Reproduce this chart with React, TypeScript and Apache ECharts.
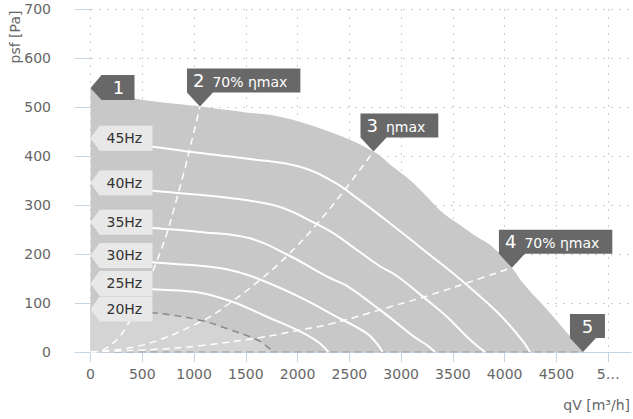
import React, { useEffect, useRef } from 'react';
import * as echarts from 'echarts';

// ---- axis ticks ----
const xTickValues = [0, 500, 1000, 1500, 2000, 2500, 3000, 3500, 4000, 4500, 5000];

// ---- operating envelope (max curve) ----
const envelope = [
  [0, 539], [440, 517], [1057, 501], [1500, 489], [1831, 480], [2314, 449], [2733, 409],
  [2920, 378], [3084, 351], [3249, 317], [3403, 284], [3568, 259], [3732, 235], [3886, 214],
  [4070, 172], [4176, 141], [4437, 80], [4756, 0],
];

// ---- frequency curves ----
const hz45 = [
  [0, 436], [602, 419], [1056, 406], [1539, 394], [2022, 378], [2341, 348], [2600, 310],
  [2824, 274], [3113, 226], [3278, 198], [3471, 166], [3596, 144], [3761, 114], [3925, 82],
  [4079, 47], [4190, 18], [4244, 0],
];
const hz40 = [
  [0, 345], [602, 329], [1056, 321], [1500, 310], [1858, 294], [2186, 261], [2341, 243],
  [2601, 204], [2795, 175], [2959, 155], [3210, 113], [3442, 72], [3640, 30], [3760, 8], [3809, 0],
];
const hz35 = [
  [0, 265], [602, 253], [1056, 245], [1539, 232], [1907, 198], [2312, 151], [2476, 135],
  [2795, 86], [2959, 59], [3113, 33], [3249, 14], [3326, 0],
];
const hz30 = [
  [0, 197], [602, 183], [1056, 176], [1375, 166], [1637, 148], [2022, 112], [2341, 76],
  [2669, 38], [2770, 16], [2820, 0],
];
const hz25 = [
  [0, 140], [602, 128], [1056, 121], [1375, 102], [1703, 72], [2022, 42], [2200, 20], [2296, 0],
];
const hz20 = [
  [0, 88], [602, 80], [1056, 65], [1327, 47], [1607, 25], [1700, 12], [1763, 0],
];

// ---- efficiency (system) lines ----
const eta70Left = [[0, 0], [138, 6], [348, 52], [670, 202], [864, 337], [1000, 450], [1057, 501]];
const etaMax = [
  [0, 0], [500, 14], [1057, 61], [1347, 100], [1637, 147], [1898, 196], [2186, 261], [2440, 327], [2733, 409],
];
const eta70Right = [
  [0, 0], [600, 5], [1059, 13], [1600, 28], [2026, 45], [2312, 57], [2669, 78], [2795, 86],
  [3278, 116], [3635, 141], [4070, 172],
];
const zeroLine = [[0, 0], [4756, 0]];

// ---- frequency tags ----
const tagLabels = ['45Hz', '40Hz', '35Hz', '30Hz', '25Hz', '20Hz'];
const tagQ = [0, 0, 0, 0, 0, 0];
const tagP = [436, 345, 265, 197, 140, 88];

// ---- numbered callouts ----
const calloutQ = [0, 1057, 2733, 4070, 4756];
const calloutP = [539, 501, 409, 172, 0];
const calloutNum = ['1', '2', '3', '4', '5'];
const calloutText = ['', '70% ηmax', 'ηmax', '70% ηmax', ''];

const FONT = '"DejaVu Sans", sans-serif';

let measureCtx: CanvasRenderingContext2D | null = null;
function measure(text: string, font: string): number {
  if (!measureCtx) measureCtx = document.createElement('canvas').getContext('2d');
  if (!measureCtx) return text.length * 8;
  measureCtx.font = font;
  return measureCtx.measureText(text).width;
}

const SMOOTH = 0.4;

const whiteLine = (data: number[][]) => ({
  type: 'line',
  data,
  symbol: 'none',
  smooth: SMOOTH,
  silent: true,
  lineStyle: { color: '#ffffff', width: 2 },
});

const dashedWhite = (data: number[][]) => ({
  type: 'line',
  data,
  symbol: 'none',
  smooth: SMOOTH,
  silent: true,
  lineStyle: { color: '#ffffff', width: 1.5, type: [7, 5] },
});

function renderTag(i: number, cx: number, cy: number) {
  const h = 12.5;
  return {
    type: 'group',
    children: [
      {
        type: 'polygon',
        shape: {
          points: [[cx, cy], [cx + 9, cy - h], [cx + 62, cy - h], [cx + 62, cy + h], [cx + 9, cy + h]],
        },
        style: { fill: '#e8e8e8' },
      },
      {
        type: 'text',
        x: cx + 16,
        y: cy,
        style: {
          text: tagLabels[i],
          fill: '#333333',
          font: `14px ${FONT}`,
          align: 'left',
          verticalAlign: 'middle',
        },
      },
    ],
  };
}

function renderCallout(i: number, q: number, cx: number, cy: number) {
  const num = calloutNum[i];
  const txt = calloutText[i];
  const fill = '#686868';
  const numFont = `18px ${FONT}`;
  const txtFont = `14px ${FONT}`;
  if (q === 0) {
    const pts = [[cx, cy], [cx + 11, cy - 13], [cx + 44, cy - 13], [cx + 44, cy + 12], [cx + 11, cy + 12]];
    return {
      type: 'group',
      children: [
        { type: 'polygon', shape: { points: pts }, style: { fill } },
        {
          type: 'text',
          x: cx + 28,
          y: cy,
          style: { text: num, fill: '#ffffff', font: numFont, align: 'center', verticalAlign: 'middle' },
        },
      ],
    };
  }
  const numW = measure(num, numFont);
  const txtW = txt ? measure(txt, txtFont) : 0;
  const left = cx - 13;
  const bottom = cy - 14;
  const top = bottom - 24;
  const w = txt ? 6 + numW + 8 + txtW + 13 : 35;
  const pts = [[left, top], [left + w, top], [left + w, bottom], [left + 26, bottom], [cx, cy], [left, bottom]];
  const children: any[] = [{ type: 'polygon', shape: { points: pts }, style: { fill } }];
  if (txt) {
    children.push({
      type: 'text',
      x: left + 6,
      y: (top + bottom) / 2,
      style: { text: num, fill: '#ffffff', font: numFont, align: 'left', verticalAlign: 'middle' },
    });
    children.push({
      type: 'text',
      x: left + 6 + numW + 8,
      y: (top + bottom) / 2 + 1,
      style: { text: txt, fill: '#ffffff', font: txtFont, align: 'left', verticalAlign: 'middle' },
    });
  } else {
    children.push({
      type: 'text',
      x: left + w / 2,
      y: (top + bottom) / 2,
      style: { text: num, fill: '#ffffff', font: numFont, align: 'center', verticalAlign: 'middle' },
    });
  }
  return { type: 'group', children };
}

export default function App() {
  const ref = useRef<HTMLDivElement>(null);

  useEffect(() => {
    if (!ref.current) return;
    const chart = echarts.init(ref.current, null, { renderer: 'svg' });
    const axisBlue = '#c5d4e4';
    const labelColor = '#666666';

    // annotation rows: [q, p, kind (0 = tag, 1 = callout), index]
    const annotations = [
      ...tagQ.map((q, i) => [q, tagP[i], 0, i]),
      ...calloutQ.map((q, i) => [q, calloutP[i], 1, i]),
    ];

    const option: any = {
      animation: false,
      grid: { left: 75, right: 2, top: 9, bottom: 67 },
      xAxis: {
        type: 'value',
        min: -150,
        max: 5220,
        axisLine: { show: true, onZero: true, lineStyle: { color: axisBlue, width: 1 } },
        axisTick: { show: true, customValues: xTickValues, length: 10, lineStyle: { color: axisBlue } },
        axisLabel: {
          customValues: xTickValues,
          margin: 15,
          color: labelColor,
          fontFamily: FONT,
          fontSize: 14,
          formatter: (v: number) => (v === 5000 ? '5…' : String(v)),
        },
        splitLine: { show: true, lineStyle: { color: '#cfcfcf', type: [2, 6], width: 1 } },
      },
      yAxis: {
        type: 'value',
        min: 0,
        max: 700,
        interval: 100,
        axisLine: { show: true, onZero: true, lineStyle: { color: 'rgba(0,0,0,0)', width: 0 } },
        axisTick: { show: true, length: 14, lineStyle: { color: axisBlue } },
        axisLabel: { margin: 24, color: labelColor, fontFamily: FONT, fontSize: 14 },
        splitLine: { show: true, lineStyle: { color: '#cfcfcf', type: [2, 6], width: 1 } },
      },
      graphic: [
        {
          type: 'text',
          x: 15,
          y: 37,
          rotation: Math.PI / 2,
          style: {
            text: 'psf [Pa]',
            fill: labelColor,
            font: `14px ${FONT}`,
            align: 'center',
            verticalAlign: 'middle',
          },
        },
        {
          type: 'text',
          x: 630,
          y: 405,
          style: {
            text: 'qV [m³/h]',
            fill: labelColor,
            font: `14px ${FONT}`,
            align: 'right',
            verticalAlign: 'middle',
          },
        },
      ],
      series: [
        {
          type: 'line',
          z: 1,
          data: envelope,
          symbol: 'none',
          smooth: SMOOTH,
          silent: true,
          lineStyle: { width: 0, color: '#c8c8c8' },
          areaStyle: { color: '#c8c8c8', opacity: 1 },
        },
        {
          type: 'line',
          z: 1,
          data: hz20,
          symbol: 'none',
          smooth: SMOOTH,
          silent: true,
          lineStyle: { width: 0, color: '#d4d4d4' },
          areaStyle: { color: '#d4d4d4', opacity: 1 },
        },
        {
          type: 'line',
          data: zeroLine,
          symbol: 'none',
          silent: true,
          lineStyle: { color: '#a8a8a8', width: 1.5, type: [7, 5] },
        },
        whiteLine(hz45),
        whiteLine(hz40),
        whiteLine(hz35),
        whiteLine(hz30),
        whiteLine(hz25),
        {
          type: 'line',
          data: hz20,
          symbol: 'none',
          smooth: SMOOTH,
          silent: true,
          lineStyle: { color: '#8a8a8a', width: 1.5, type: [7, 5] },
        },
        dashedWhite(eta70Left),
        dashedWhite(etaMax),
        dashedWhite(eta70Right),
        {
          type: 'custom',
          z: 10,
          silent: true,
          clip: false,
          encode: { x: 0, y: 1 },
          data: annotations,
          renderItem: (_params: any, api: any) => {
            const q = api.value(0);
            const p = api.value(1);
            const kind = api.value(2);
            const i = api.value(3);
            const [cx, cy] = api.coord([q, p]);
            return kind === 0 ? renderTag(i, cx, cy) : renderCallout(i, q, cx, cy);
          },
        },
      ],
    };

    chart.setOption(option);
    return () => chart.dispose();
  }, []);

  return (
    <div
      ref={ref}
      style={{ position: 'absolute', left: 0, top: 0, width: 633, height: 419, background: '#ffffff' }}
    />
  );
}
